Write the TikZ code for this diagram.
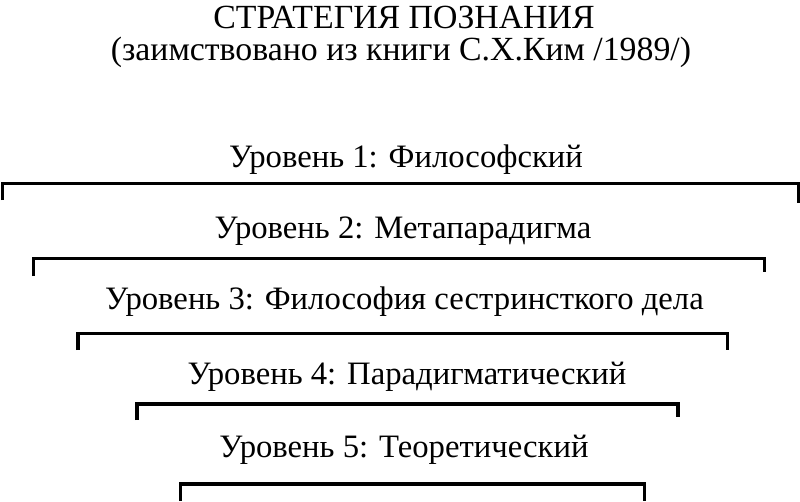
\documentclass[tikz,border=0pt]{standalone}
\usepackage{fontspec}
\setmainfont{Liberation Serif}
\begin{document}
\begin{tikzpicture}[x=1pt,y=-1pt,
  lbl/.style={anchor=base,inner sep=0pt,font=\fontsize{32.7}{38}\selectfont},
  ttl/.style={anchor=base,inner sep=0pt,font=\fontsize{33.8}{40}\selectfont},
  brk/.style={line width=3.2pt,line join=miter,line cap=butt}]
\useasboundingbox[fill=white] (0,0) rectangle (800,501);
\node[ttl] (title) at (404,28.5) {СТРАТЕГИЯ ПОЗНАНИЯ};
\node[ttl] (sub) at (401,60) {(заимствовано из книги С.Х.Ким /1989/)};
\node[lbl] (l1) at (406,167) {Уровень 1: Философский};
\node[lbl] (l2) at (403,238) {Уровень 2: Метапарадигма};
\node[lbl] (l3) at (404.5,309) {Уровень 3: Философия сестринсткого дела};
\node[lbl] (l4) at (407,384) {Уровень 4: Парадигматический};
\node[lbl] (l5) at (404,457) {Уровень 5: Теоретический};
\draw[brk] (2.5,200) -- (2.5,183.5) -- (798.5,183.5) -- (798.5,203);
\draw[brk] (33.5,276) -- (33.5,258.5) -- (764.5,258.5) -- (764.5,272);
\draw[brk] (78,350) -- (78,333.5) -- (727.5,333.5) -- (727.5,350);
\draw[brk] (137,420) -- (137,404) -- (678,404) -- (678,417);
\draw[brk] (180.5,501) -- (180.5,484) -- (644.5,484) -- (644.5,501);
\end{tikzpicture}
\end{document}
